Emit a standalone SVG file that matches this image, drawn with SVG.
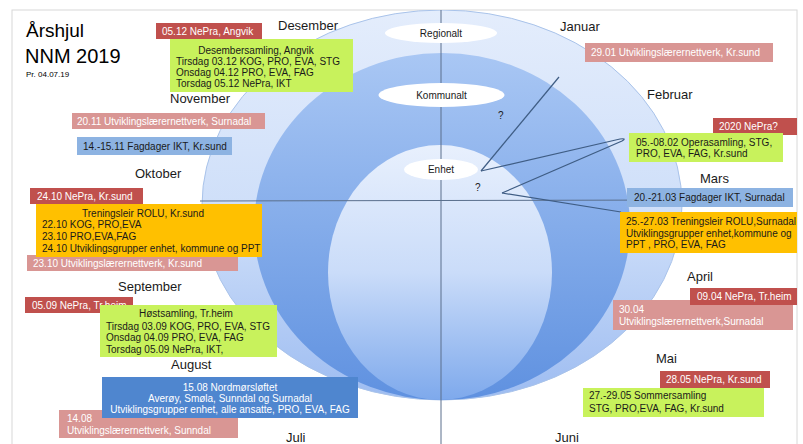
<svg xmlns="http://www.w3.org/2000/svg" width="803" height="444" viewBox="0 0 803 444">
<defs>
<linearGradient id="gOuter" x1="0" y1="0" x2="0" y2="1">
<stop offset="0" stop-color="#e4edfc"/><stop offset="0.55" stop-color="#cddef9"/><stop offset="1" stop-color="#9dbcf1"/>
</linearGradient>
<linearGradient id="gMid" x1="0" y1="0" x2="0" y2="1">
<stop offset="0" stop-color="#a9c7f4"/><stop offset="1" stop-color="#5f91e0"/>
</linearGradient>
<linearGradient id="gInner" x1="0" y1="0" x2="0" y2="1">
<stop offset="0" stop-color="#e8f0fd"/><stop offset="0.5" stop-color="#cadcf9"/><stop offset="1" stop-color="#7ea9ec"/>
</linearGradient>
<clipPath id="frameClip"><rect x="12" y="10" width="785" height="434"/></clipPath>
</defs>
<style>
text{font-family:"Liberation Sans",Arial,sans-serif;}
.month{font-size:13px;fill:#1a1a1a;}
.bt{font-size:10px;fill:#1a1a1a;}
.wt{font-size:10px;fill:#ffffff;}
.red{fill:#c0504d;}
.pink{fill:#d99694;}
.green{fill:#c8f25c;}
.orange{fill:#ffc000;}
.lblue{fill:#8db3e2;}
.mblue{fill:#4f86cf;}
.lab{fill:#ffffff;}
.labt{font-size:10px;fill:#1a1a1a;text-anchor:middle;}
.conn{stroke:#3f5d84;stroke-width:1.2;fill:none;}
.axis{stroke:#5a6f8c;stroke-width:1;}
</style>
<rect x="0" y="0" width="803" height="444" fill="#ffffff"/>
<rect x="12" y="10" width="785" height="440" fill="none" stroke="#d8d8d8" stroke-width="1"/>
<g id="wheel" clip-path="url(#frameClip)">
<ellipse cx="442" cy="205" rx="240" ry="195" fill="url(#gOuter)" stroke="#a9c3ea" stroke-width="1"/>
<ellipse cx="442" cy="226.5" rx="188" ry="173.5" fill="url(#gMid)"/>
<ellipse cx="440" cy="272.5" rx="112" ry="127.5" fill="url(#gInner)"/>
<line class="axis" x1="441" y1="10" x2="441" y2="444"/>
<line class="axis" x1="200" y1="201" x2="684" y2="200"/>
</g>
<g id="connectors">
<line class="conn" x1="481" y1="171" x2="559" y2="77"/>
<path class="conn" d="M481 171 L620 139 Q627 138 622 141 L502 193"/>
<line class="conn" x1="502" y1="193" x2="621" y2="212"/>
</g>
<g id="regionalt"><ellipse class="lab" cx="441" cy="33" rx="56" ry="10"/><text class="labt" x="441" y="36.5">Regionalt</text></g>
<g id="kommunalt"><ellipse class="lab" cx="441.5" cy="95" rx="63" ry="12"/><text class="labt" x="441.5" y="98.5">Kommunalt</text></g>
<g id="enhet"><ellipse class="lab" cx="441" cy="169.5" rx="37" ry="10.5"/><text class="labt" x="441" y="173">Enhet</text></g>
<text class="bt" x="498" y="119" font-size="10">?</text>
<text class="bt" x="475" y="191" font-size="10">?</text>
<g id="title">
<text x="26" y="37" font-family="DejaVu Sans,sans-serif" font-size="19" fill="#000">Årshjul</text>
<text x="25" y="63" font-family="DejaVu Sans,sans-serif" font-size="20" fill="#000">NNM 2019</text>
<text x="26" y="77" font-size="8" fill="#000">Pr. 04.07.19</text>
</g>
<g id="months">
<text class="month" x="278" y="30">Desember</text>
<text class="month" x="560" y="31">Januar</text>
<text class="month" x="170" y="103">November</text>
<text class="month" x="647" y="99">Februar</text>
<text class="month" x="135" y="178">Oktober</text>
<text class="month" x="700" y="183">Mars</text>
<text class="month" x="118" y="291">September</text>
<text class="month" x="687" y="281">April</text>
<text class="month" x="171" y="369">August</text>
<text class="month" x="656" y="363">Mai</text>
<text class="month" x="286" y="442">Juli</text>
<text class="month" x="555" y="442">Juni</text>
</g>
<g id="des-nepra"><rect class="red" x="156" y="23" width="106" height="16"/><text class="wt" x="162" y="35">05.12 NePra, Angvik</text></g>
<g id="des-samling"><rect class="green" x="170" y="39" width="183" height="53"/>
<text class="bt" x="256" y="54" text-anchor="middle">Desembersamling, Angvik</text>
<text class="bt" x="176" y="65">Tirsdag 03.12 KOG, PRO, EVA, STG</text>
<text class="bt" x="176" y="76">Onsdag 04.12 PRO, EVA, FAG</text>
<text class="bt" x="176" y="87">Torsdag 05.12 NePra, IKT</text></g>
<g id="jan-utv"><rect class="pink" x="585" y="43" width="188" height="19"/><text class="wt" x="591" y="56">29.01 Utviklingslærernettverk, Kr.sund</text></g>
<g id="nov-utv"><rect class="pink" x="72" y="113" width="193" height="16"/><text class="wt" x="77" y="125">20.11 Utviklingslærernettverk, Surnadal</text></g>
<g id="nov-fag"><rect class="lblue" x="77" y="137" width="155" height="18"/><text class="bt" x="83" y="149.5">14.-15.11 Fagdager IKT, Kr.sund</text></g>
<g id="feb-nepra"><rect class="red" x="713" y="118" width="84" height="17"/><text class="wt" x="719" y="130">2020 NePra?</text></g>
<g id="feb-opera"><rect class="green" x="629" y="133" width="154" height="29"/>
<text class="bt" x="636" y="145.5">05.-08.02 Operasamling, STG,</text>
<text class="bt" x="636" y="157">PRO, EVA, FAG, Kr.sund</text></g>
<g id="okt-nepra"><rect class="red" x="30" y="188" width="113" height="16"/><text class="wt" x="37" y="200">24.10 NePra, Kr.sund</text></g>
<g id="mar-fag"><rect class="lblue" x="627" y="188" width="166" height="19"/><text class="bt" x="634" y="201">20.-21.03 Fagdager IKT, Surnadal</text></g>
<g id="okt-utv"><rect class="pink" x="27" y="255" width="211" height="16"/><text class="wt" x="33" y="267">23.10  Utviklingslærernettverk, Kr.sund</text></g>
<g id="okt-trening"><rect class="orange" x="36" y="204" width="226" height="53"/>
<text class="bt" x="143" y="216.5" text-anchor="middle">Treningsleir ROLU, Kr.sund</text>
<text class="bt" x="42" y="228">22.10 KOG, PRO,EVA</text>
<text class="bt" x="42" y="240">23.10 PRO,EVA,FAG</text>
<text class="bt" x="42" y="252">24.10 Utviklingsgrupper enhet, kommune og PPT</text></g>
<g id="mar-trening"><rect class="orange" x="620" y="212" width="177" height="41"/>
<text class="bt" x="626" y="224.5">25.-27.03 Treningsleir ROLU,Surnadal</text>
<text class="bt" x="626" y="236.5">Utviklingsgrupper enhet,kommune og</text>
<text class="bt" x="626" y="248">PPT , PRO, EVA, FAG</text></g>
<g id="apr-utv"><rect class="pink" x="613" y="300" width="180" height="30"/>
<text class="wt" x="619" y="312.5">30.04</text>
<text class="wt" x="619" y="324.5">Utviklingslærernettverk,Surnadal</text></g>
<g id="apr-nepra"><rect class="red" x="690" y="288" width="107" height="17"/><text class="wt" x="697" y="300">09.04 NePra, Tr.heim</text></g>
<g id="sep-nepra"><rect class="red" x="25" y="297" width="108" height="16"/><text class="wt" x="32" y="309">05.09 NePra, Tr.heim</text></g>
<g id="sep-samling"><rect class="green" x="100" y="305" width="177" height="52"/>
<text class="bt" x="186" y="317" text-anchor="middle">Høstsamling, Tr.heim</text>
<text class="bt" x="106" y="329.5">Tirsdag 03.09 KOG, PRO, EVA, STG</text>
<text class="bt" x="106" y="341">Onsdag 04.09 PRO, EVA, FAG</text>
<text class="bt" x="106" y="352.5">Torsdag 05.09 NePra, IKT,</text></g>
<g id="mai-nepra"><rect class="red" x="660" y="371" width="110" height="17"/><text class="wt" x="666" y="383">28.05 NePra, Kr.sund</text></g>
<g id="mai-samling"><rect class="green" x="583" y="388" width="181" height="29"/>
<text class="bt" x="589" y="399">27.-29.05 Sommersamling</text>
<text class="bt" x="589" y="411.5">STG, PRO,EVA, FAG, Kr.sund</text></g>
<g id="aug-utv"><rect class="pink" x="59" y="410" width="179" height="28"/>
<text class="wt" x="67" y="421.5">14.08</text>
<text class="wt" x="67" y="433.5">Utviklingslærernettverk, Sunndal</text></g>
<g id="aug-nordmor"><rect class="mblue" x="102" y="377" width="256" height="41"/>
<text class="wt" x="230" y="390.5" text-anchor="middle">15.08 Nordmørsløftet</text>
<text class="wt" x="230" y="402" text-anchor="middle">Averøy, Smøla, Sunndal og Surnadal</text>
<text class="wt" x="230" y="413" text-anchor="middle">Utviklingsgrupper enhet, alle ansatte, PRO, EVA, FAG</text></g>
</svg>
